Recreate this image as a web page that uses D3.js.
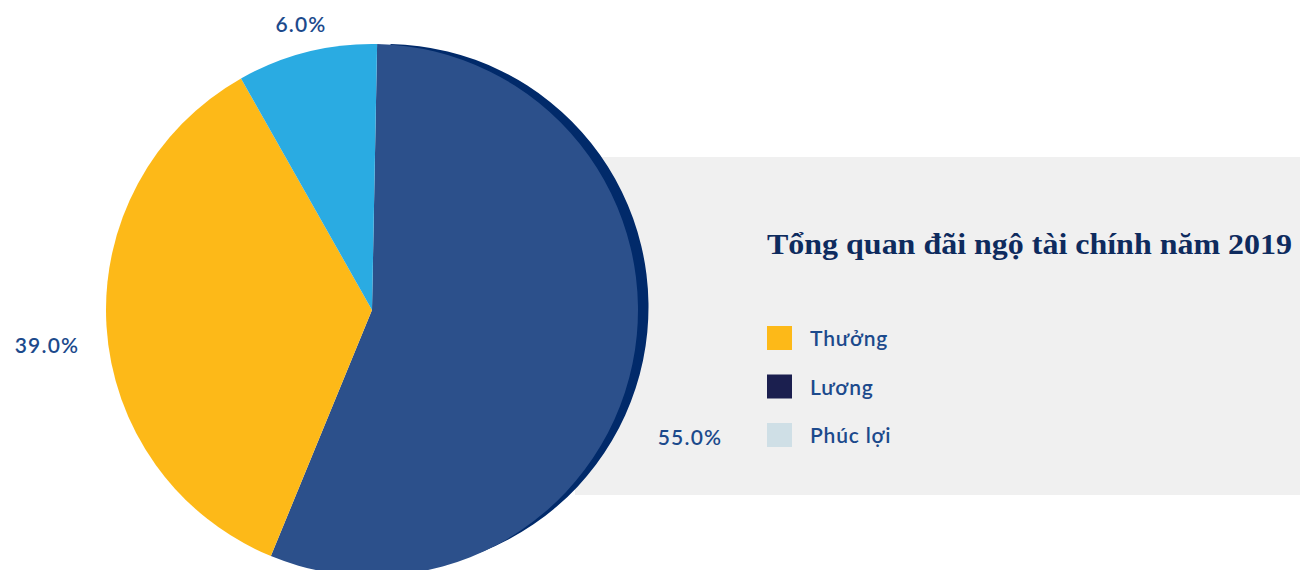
<!DOCTYPE html>
<html>
<head>
<meta charset="utf-8">
<script src="https://cdn.jsdelivr.net/npm/d3@7"></script>
<style>
  html, body { margin: 0; padding: 0; background: #fff; }
  svg { display: block; }
</style>
</head>
<body>
<script>
// slices in drawing order (clockwise from top)
const sliceNames = ["Lương", "Thưởng", "Phúc lợi"];
const sliceShares = [55.9, 35.6, 8.5];          // shares as drawn
const sliceLabels = ["55.0%", "39.0%", "6.0%"];  // labels as printed
const sliceColors = ["#2c508b", "#fdb918", "#2aabe2"];

// legend
const legendNames = ["Thưởng", "Lương", "Phúc lợi"];
const legendColors = ["#fdb918", "#1b1f4f", "#cfdfe6"];

const titleText = "Tổng quan đãi ngộ tài chính năm 2019";

const width = 1300, height = 570;
const cx = 372, cy = 310, radius = 266;
const startAngle = 1.1 * Math.PI / 180;

const svg = d3.select("body").append("svg")
    .attr("width", width)
    .attr("height", height);

// grey panel behind legend
svg.append("rect")
    .attr("x", 575).attr("y", 157)
    .attr("width", width - 575).attr("height", 338)
    .attr("fill", "#f0f0f0");

const pie = d3.pie()
    .sort(null)
    .value(d => d)
    .startAngle(startAngle)
    .endAngle(startAngle + 2 * Math.PI);

const arcs = pie(sliceShares);
const arc = d3.arc().innerRadius(0).outerRadius(radius);

// dark edge behind the biggest slice
const shadowArc = d3.arc().innerRadius(0).outerRadius(radius - 3);
svg.append("path")
    .attr("transform", `translate(${cx + 13.5},${cy - 3})`)
    .attr("d", shadowArc(arcs[0]))
    .attr("fill", "#012a6a");

const g = svg.append("g").attr("transform", `translate(${cx},${cy})`);
g.selectAll("path.slice")
    .data(arcs)
    .enter().append("path")
    .attr("class", "slice")
    .attr("d", arc)
    .attr("fill", (d, i) => sliceColors[i]);

// data labels
const labelPos = [[690, 445], [47, 353], [301, 32]];
svg.selectAll("text.pct")
    .data(sliceLabels)
    .enter().append("text")
    .attr("class", "pct")
    .attr("x", (d, i) => labelPos[i][0])
    .attr("y", (d, i) => labelPos[i][1])
    .attr("text-anchor", "middle")
    .attr("font-family", "Lato, 'Open Sans', sans-serif")
    .attr("font-weight", 600)
    .attr("font-size", 21)
    .attr("letter-spacing", 1.2)
    .attr("fill", "#1c4a8c")
    .text(d => d);

// title
svg.append("text")
    .attr("x", 767).attr("y", 254)
    .attr("font-family", "'Liberation Serif', serif")
    .attr("font-weight", "bold")
    .attr("font-size", 30)
    .attr("textLength", 525)
    .attr("lengthAdjust", "spacingAndGlyphs")
    .attr("fill", "#0e2b5e")
    .text(titleText);

// legend
const legend = svg.selectAll("g.legend")
    .data(legendNames)
    .enter().append("g")
    .attr("class", "legend")
    .attr("transform", (d, i) => `translate(767,${326 + i * 48.5})`);

legend.append("rect")
    .attr("width", 25).attr("height", 24)
    .attr("fill", (d, i) => legendColors[i]);

legend.append("text")
    .attr("x", 43).attr("y", 20)
    .attr("font-family", "Lato, 'Open Sans', sans-serif")
    .attr("font-weight", 600)
    .attr("font-size", 21)
    .attr("letter-spacing", 0.8)
    .attr("fill", "#1c4a8c")
    .text(d => d);
</script>
</body>
</html>
